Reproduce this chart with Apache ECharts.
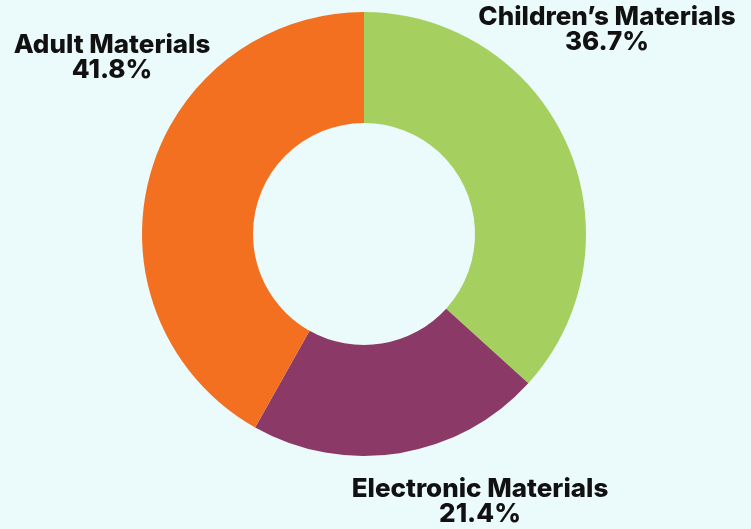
<!DOCTYPE html>
<html><head><meta charset="utf-8">
<script src="https://cdn.jsdelivr.net/npm/echarts@6/dist/echarts.min.js"></script>
<style>html,body{margin:0;padding:0;background:#ebfbfb;}#c{width:751px;height:529px;}</style>
</head><body><div id="c"></div>
<script>
const categories = ["Children\u2019s Materials", "Electronic Materials", "Adult Materials"];
const values = [36.7, 21.4, 41.8];
const colors = ["#a5cf5f", "#8b3a67", "#f37021"];
const labelPos = [[607, 30], [480, 502], [112, 58]];

const chart = echarts.init(document.getElementById('c'));
chart.setOption({
  backgroundColor: '#ebfbfb',
  animation: false,
  series: [{
    type: 'pie',
    center: [364, 234],
    radius: [111, 222],
    startAngle: 90,
    clockwise: true,
    data: categories.map((n, i) => ({ name: n, value: values[i], itemStyle: { color: colors[i] } })),
    label: {
      show: true,
      position: 'outside',
      formatter: p => p.name + '\n' + p.value.toFixed(1) + '%',
      fontFamily: 'Inter',
      fontWeight: 800,
      fontSize: 26,
      lineHeight: 25,
      color: '#111111',
      align: 'center',
      overflow: 'none',
      width: 400
    },
    labelLine: { show: false },
    labelLayout: p => ({ x: labelPos[p.dataIndex][0], y: labelPos[p.dataIndex][1], align: 'center', verticalAlign: 'middle' })
  }]
});
</script></body></html>
